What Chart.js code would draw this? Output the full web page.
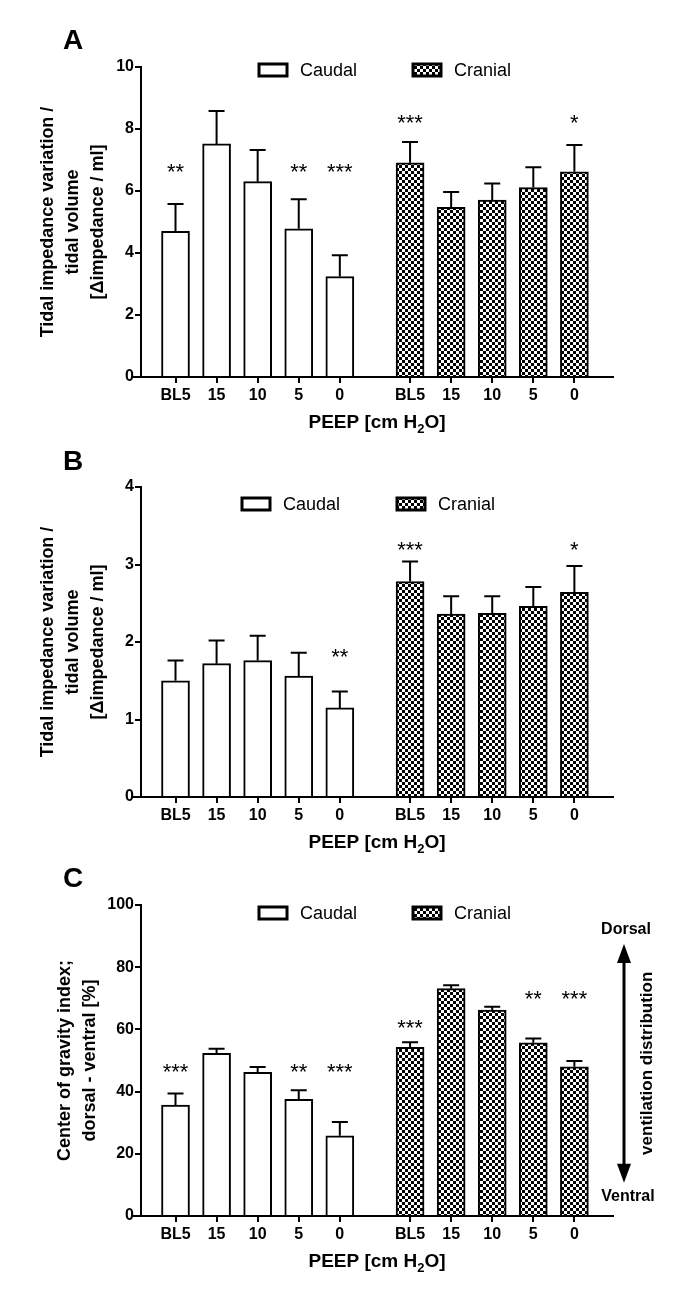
<!DOCTYPE html>
<html>
<head>
<meta charset="utf-8">
<script src="https://cdn.jsdelivr.net/npm/chart.js@4.4.1/dist/chart.umd.min.js"></script>
<style>
  body { margin: 0; background: #fff; }
  canvas { display: block; }
</style>
</head>
<body>
<canvas id="panelA" width="685" height="440"></canvas>
<canvas id="panelB" width="685" height="420"></canvas>
<canvas id="panelC" width="685" height="450"></canvas>
<script>
// categories
const groupLabels = ['BL5', '15', '10', '5', '0'];
const seriesNames = ['Caudal', 'Cranial'];

// panel A: tidal impedance variation / tidal volume
const aCaudal = [4.70, 7.52, 6.30, 4.78, 3.24];
const aCaudalErr = [0.88, 1.06, 1.02, 0.95, 0.69];
const aCranial = [6.91, 5.47, 5.71, 6.11, 6.62];
const aCranialErr = [0.67, 0.50, 0.53, 0.66, 0.86];
const aCaudalStars = ['**', '', '', '**', '***'];
const aCaudalStarAt = [6.78, null, null, 6.78, 6.78];
const aCranialStars = ['***', '', '', '', '*'];
const aCranialStarAt = [8.34, null, null, null, 8.34];

// panel B
const bCaudal = [1.50, 1.72, 1.76, 1.56, 1.15];
const bCaudalErr = [0.26, 0.30, 0.32, 0.30, 0.21];
const bCranial = [2.78, 2.36, 2.37, 2.46, 2.64];
const bCranialErr = [0.26, 0.23, 0.22, 0.25, 0.34];
const bCaudalStars = ['', '', '', '', '**'];
const bCaudalStarAt = [null, null, null, null, 1.87];
const bCranialStars = ['***', '', '', '', '*'];
const bCranialStarAt = [3.25, null, null, null, 3.25];

// panel C: center of gravity index
const cCaudal = [35.7, 52.3, 46.2, 37.5, 25.8];
const cCaudalErr = [3.7, 1.5, 1.7, 2.9, 4.4];
const cCranial = [54.2, 73.1, 66.2, 55.7, 48.0];
const cCranialErr = [1.7, 1.1, 1.1, 1.4, 1.8];
const cCaudalStars = ['***', '', '', '**', '***'];
const cCaudalStarAt = [48, null, null, 48, 48];
const cCranialStars = ['***', '', '', '**', '***'];
const cCranialStarAt = [62.2, null, null, 71.3, 71.3];

const impTitle = ['Tidal impedance variation /', 'tidal volume', '[\u0394impedance / ml]'];
const cogTitle = ['Center of gravity index;', 'dorsal - ventral [%]'];

const FONT = "'Liberation Sans', Arial, sans-serif";
Chart.defaults.font.family = FONT;
Chart.defaults.color = '#000';

// cranial group starts a bit more than one slot after the caudal one
const GROUP_SHIFT = 5.71;
const caudalX = groupLabels.map((_, i) => i + 1);
const cranialX = groupLabels.map((_, i) => i + 1 + GROUP_SHIFT);
const tickValues = caudalX.concat(cranialX);
const tickLabels = groupLabels.concat(groupLabels);

// checker pattern for cranial bars
const tile = document.createElement('canvas');
tile.width = 6; tile.height = 6;
const tctx = tile.getContext('2d');
tctx.fillStyle = '#fff';
tctx.fillRect(0, 0, 6, 6);
tctx.fillStyle = '#000';
tctx.fillRect(0, 0, 3, 3);
tctx.fillRect(3, 3, 3, 3);
const checker = tctx.createPattern(tile, 'repeat');

const decor = {
  id: 'decor',
  afterDatasetsDraw(chart) {
    const ctx = chart.ctx;
    const xs = chart.scales.x, ys = chart.scales.y;
    ctx.save();
    ctx.strokeStyle = '#000';
    ctx.fillStyle = '#000';
    ctx.lineWidth = 2;
    chart.data.datasets.forEach(ds => {
      ds.data.forEach((p, i) => {
        const x = xs.getPixelForValue(p.x);
        const y0 = ys.getPixelForValue(p.y);
        const y1 = ys.getPixelForValue(p.y + ds.err[i]);
        ctx.beginPath();
        ctx.moveTo(x, y0);
        ctx.lineTo(x, y1);
        ctx.moveTo(x - 8, y1);
        ctx.lineTo(x + 8, y1);
        ctx.stroke();
        if (ds.stars[i]) {
          ctx.font = '22px ' + FONT;
          ctx.textAlign = 'center';
          ctx.textBaseline = 'alphabetic';
          ctx.fillText(ds.stars[i], x, ys.getPixelForValue(ds.starAt[i]) + 12);
        }
      });
    });
    ctx.restore();
  },
  afterDraw(chart, args, o) {
    const ctx = chart.ctx;
    const area = chart.chartArea;
    const ys = chart.scales.y;
    ctx.save();
    ctx.fillStyle = '#000';
    ctx.strokeStyle = '#000';

    // x axis runs a little past the y axis
    ctx.lineWidth = 2;
    ctx.beginPath();
    ctx.moveTo(area.left - 8, area.bottom);
    ctx.lineTo(area.left, area.bottom);
    ctx.stroke();

    // panel letter
    ctx.font = 'bold 28px ' + FONT;
    ctx.textAlign = 'center';
    ctx.textBaseline = 'alphabetic';
    ctx.fillText(o.letter, 73, o.letterY);

    // legend
    const ly = area.top + o.legendDy;
    [[o.legendX[0], '#fff', seriesNames[0]], [o.legendX[1], checker, seriesNames[1]]].forEach(([lx, fill, name]) => {
      ctx.fillStyle = fill;
      ctx.fillRect(lx, ly - 6, 28, 12);
      ctx.lineWidth = 3;
      ctx.strokeRect(lx, ly - 6, 28, 12);
      ctx.fillStyle = '#000';
      ctx.font = '18px ' + FONT;
      ctx.textAlign = 'left';
      ctx.textBaseline = 'middle';
      ctx.fillText(name, lx + 41, ly + 1);
    });

    // x title with subscript
    const cx = (area.left + area.right) / 2;
    const ty = area.bottom + 46;
    ctx.textBaseline = 'middle';
    ctx.textAlign = 'left';
    ctx.font = 'bold 19px ' + FONT;
    const w1 = ctx.measureText('PEEP [cm H').width;
    const w3 = ctx.measureText('O]').width;
    ctx.font = 'bold 13px ' + FONT;
    const w2 = ctx.measureText('2').width;
    let x0 = cx - (w1 + w2 + w3) / 2;
    ctx.font = 'bold 19px ' + FONT;
    ctx.fillText('PEEP [cm H', x0, ty);
    ctx.font = 'bold 13px ' + FONT;
    ctx.fillText('2', x0 + w1, ty + 6);
    ctx.font = 'bold 19px ' + FONT;
    ctx.fillText('O]', x0 + w1 + w2, ty);

    // dorsal / ventral arrow (panel C)
    if (o.side) {
      const ax = area.right + 11;
      const top = ys.getPixelForValue(87.5);
      const bot = ys.getPixelForValue(10.7);
      ctx.lineWidth = 3;
      ctx.beginPath();
      ctx.moveTo(ax, top + 12);
      ctx.lineTo(ax, bot - 12);
      ctx.stroke();
      ctx.beginPath();
      ctx.moveTo(ax, top);
      ctx.lineTo(ax - 7, top + 19);
      ctx.lineTo(ax + 7, top + 19);
      ctx.closePath();
      ctx.fill();
      ctx.beginPath();
      ctx.moveTo(ax, bot);
      ctx.lineTo(ax - 7, bot - 19);
      ctx.lineTo(ax + 7, bot - 19);
      ctx.closePath();
      ctx.fill();
      ctx.font = 'bold 16px ' + FONT;
      ctx.textAlign = 'center';
      ctx.textBaseline = 'middle';
      ctx.fillText('Dorsal', ax + 2, ys.getPixelForValue(92));
      ctx.fillText('Ventral', ax + 4, ys.getPixelForValue(6.2));
      ctx.save();
      ctx.translate(ax + 23, (top + bot) / 2);
      ctx.rotate(-Math.PI / 2);
      ctx.font = 'bold 17px ' + FONT;
      ctx.fillText('ventilation distribution', 0, 0);
      ctx.restore();
    }
    ctx.restore();
  }
};

function makePanel(id, p) {
  const tickFont = { size: 16, weight: 'bold' };
  new Chart(document.getElementById(id), {
    type: 'bar',
    data: {
      datasets: [
        {
          label: seriesNames[0],
          data: p.caudal.map((v, i) => ({ x: caudalX[i], y: v })),
          backgroundColor: '#fff',
          borderColor: '#000',
          borderWidth: 2,
          err: p.caudalErr, stars: p.caudalStars, starAt: p.caudalStarAt
        },
        {
          label: seriesNames[1],
          data: p.cranial.map((v, i) => ({ x: cranialX[i], y: v })),
          backgroundColor: checker,
          borderColor: '#000',
          borderWidth: 2,
          err: p.cranialErr, stars: p.cranialStars, starAt: p.cranialStarAt
        }
      ]
    },
    options: {
      responsive: false,
      animation: false,
      grouped: false,
      barThickness: 28,
      layout: { padding: { top: p.top, right: 72, bottom: 0, left: 0 } },
      plugins: {
        legend: { display: false },
        tooltip: { enabled: false },
        decor: { letter: p.letter, letterY: p.letterY, legendDy: p.legendDy, legendX: p.legendX, side: p.side }
      },
      scales: {
        x: {
          type: 'linear',
          min: 0.16,
          max: 11.65,
          offset: false,
          afterBuildTicks: s => { s.ticks = tickValues.map(v => ({ value: v })); },
          afterFit: s => { s.height = p.xh; },
          ticks: { callback: (v, i) => tickLabels[i], font: tickFont, color: '#000', padding: 3, autoSkip: false, maxRotation: 0 },
          grid: { offset: false, drawOnChartArea: false, drawTicks: true, tickLength: 6, color: '#000', lineWidth: 2 },
          border: { display: true, color: '#000', width: 2 }
        },
        y: {
          min: 0,
          max: p.max,
          afterFit: s => { s.width = 141; },
          ticks: { stepSize: p.step, font: tickFont, color: '#000', padding: 1 },
          grid: { drawOnChartArea: false, drawTicks: true, tickLength: 6, color: '#000', lineWidth: 2 },
          border: { display: true, color: '#000', width: 2 },
          title: {
            display: true,
            text: p.yTitle,
            color: '#000',
            font: { size: 18, weight: 'bold', lineHeight: 25 / 18 },
            padding: { top: p.titlePad, bottom: 0 }
          }
        }
      }
    },
    plugins: [decor]
  });
}

makePanel('panelA', {
  caudal: aCaudal, caudalErr: aCaudalErr, caudalStars: aCaudalStars, caudalStarAt: aCaudalStarAt,
  cranial: aCranial, cranialErr: aCranialErr, cranialStars: aCranialStars, cranialStarAt: aCranialStarAt,
  max: 10, step: 2, yTitle: impTitle, titlePad: 35.5,
  top: 67, xh: 63, letter: 'A', letterY: 49, legendDy: 3, legendX: [259, 413]
});
makePanel('panelB', {
  caudal: bCaudal, caudalErr: bCaudalErr, caudalStars: bCaudalStars, caudalStarAt: bCaudalStarAt,
  cranial: bCranial, cranialErr: bCranialErr, cranialStars: bCranialStars, cranialStarAt: bCranialStarAt,
  max: 4, step: 1, yTitle: impTitle, titlePad: 35.5,
  top: 47, xh: 63, letter: 'B', letterY: 30, legendDy: 17, legendX: [242, 397]
});
makePanel('panelC', {
  caudal: cCaudal, caudalErr: cCaudalErr, caudalStars: cCaudalStars, caudalStarAt: cCaudalStarAt,
  cranial: cCranial, cranialErr: cCranialErr, cranialStars: cCranialStars, cranialStarAt: cCranialStarAt,
  max: 100, step: 20, yTitle: cogTitle, titlePad: 53,
  top: 45, xh: 94, letter: 'C', letterY: 27, legendDy: 8, legendX: [259, 413], side: true
});
</script>
</body>
</html>
